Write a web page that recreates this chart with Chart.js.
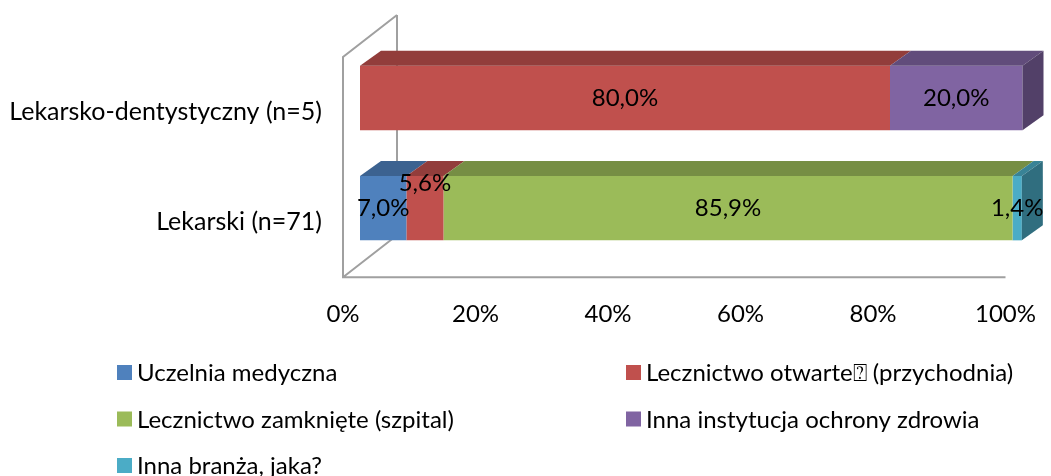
<!DOCTYPE html>
<html>
<head>
<meta charset="utf-8">
<script src="https://cdn.jsdelivr.net/npm/chart.js@4/dist/chart.umd.min.js"></script>
<style>
    html, body { margin: 0; padding: 0; background: #fff; }
    #wrap { width: 1051px; height: 476px; position: relative; }
</style>
</head>
<body>
<div id="wrap"><canvas id="wykres"></canvas></div>
<script>
// Dane
const kategorie = ['Lekarsko-dentystyczny (n=5)', 'Lekarski (n=71)'];
const serie = [
    'Uczelnia medyczna',
    'Lecznictwo otwarte\u2370 (przychodnia)',
    'Lecznictwo zamknięte (szpital)',
    'Inna instytucja ochrony zdrowia',
    'Inna branża, jaka?'
];
const uczelnia = [0, 7.0];
const otwarte = [80.0, 5.6];
const zamkniete = [0, 85.9];
const innaInstytucja = [20.0, 0];
const innaBranza = [0, 1.4];
const tickiOsi = [0, 20, 40, 60, 80, 100];

const kolory = ['#4F81BD', '#C0504D', '#9BBB59', '#8064A2', '#4BACC6'];
const czcionka = 'Lato, "Liberation Sans", sans-serif';
const rozmiar = 24;

// przesuniecia 3D
const GLEB_SCIANA = { x: 54, y: 42 };
const GLEB_SLUPEK = { x: 21, y: 15 };
const PRZES_SLUPKA = { x: 17, y: -14 };

function przyciemnij(hex, f) {
    const n = parseInt(hex.slice(1), 16);
    const r = Math.round(((n >> 16) & 255) * f);
    const g = Math.round(((n >> 8) & 255) * f);
    const b = Math.round((n & 255) * f);
    return `rgb(${r},${g},${b})`;
}

const wartosci = [uczelnia, otwarte, zamkniete, innaInstytucja, innaBranza];

const datasets = serie.map((nazwa, i) => ({
    label: nazwa,
    data: wartosci[i],
    backgroundColor: kolory[i],
    borderWidth: 0,
    categoryPercentage: 1,
    barPercentage: 0.585,
    clip: false
}));

// sciany wykresu 3D (szare linie)
const sciany = {
    id: 'sciany',
    beforeDatasetsDraw(chart) {
        const { ctx, chartArea: a } = chart;
        ctx.save();
        ctx.strokeStyle = '#A0A0A0';
        ctx.lineWidth = 2;
        ctx.beginPath();
        ctx.moveTo(a.left + GLEB_SCIANA.x, a.top - GLEB_SCIANA.y);
        ctx.lineTo(a.left, a.top);
        ctx.lineTo(a.left, a.bottom);
        ctx.lineTo(a.right, a.bottom);
        ctx.moveTo(a.left, a.bottom);
        ctx.lineTo(a.left + GLEB_SCIANA.x, a.bottom - GLEB_SCIANA.y);
        ctx.moveTo(a.left + GLEB_SCIANA.x, a.top - GLEB_SCIANA.y);
        ctx.lineTo(a.left + GLEB_SCIANA.x, a.bottom - GLEB_SCIANA.y);
        ctx.stroke();
        ctx.restore();
        // slupki przesuniete w glab
        ctx.save();
        ctx.translate(PRZES_SLUPKA.x, PRZES_SLUPKA.y);
    },
    afterDatasetsDraw(chart) {
        const ctx = chart.ctx;
        const dx = GLEB_SLUPEK.x, dy = GLEB_SLUPEK.y;
        kategorie.forEach((_, idx) => {
            let ostatni = null;
            chart.data.datasets.forEach((ds, di) => {
                if (!ds.data[idx]) return;
                const el = chart.getDatasetMeta(di).data[idx];
                const p = el.getProps(['x', 'y', 'base', 'height'], true);
                const x0 = Math.min(p.x, p.base), x1 = Math.max(p.x, p.base);
                const yT = p.y - p.height / 2;
                ctx.fillStyle = przyciemnij(kolory[di], 0.76);
                ctx.beginPath();
                ctx.moveTo(x0, yT);
                ctx.lineTo(x1, yT);
                ctx.lineTo(x1 + dx, yT - dy);
                ctx.lineTo(x0 + dx, yT - dy);
                ctx.closePath();
                ctx.fill();
                ostatni = { di, x1, yT, yB: p.y + p.height / 2 };
            });
            if (ostatni) {
                ctx.fillStyle = przyciemnij(kolory[ostatni.di], 0.64);
                ctx.beginPath();
                ctx.moveTo(ostatni.x1, ostatni.yT);
                ctx.lineTo(ostatni.x1 + dx, ostatni.yT - dy);
                ctx.lineTo(ostatni.x1 + dx, ostatni.yB - dy);
                ctx.lineTo(ostatni.x1, ostatni.yB);
                ctx.closePath();
                ctx.fill();
            }
        });
        // etykiety danych
        ctx.font = `${rozmiar}px ${czcionka}`;
        ctx.fillStyle = '#000';
        ctx.textAlign = 'center';
        ctx.textBaseline = 'middle';
        kategorie.forEach((_, idx) => {
            let prawaKrawedz = -Infinity;
            chart.data.datasets.forEach((ds, di) => {
                const v = ds.data[idx];
                if (!v) return;
                const el = chart.getDatasetMeta(di).data[idx];
                const p = el.getProps(['x', 'y', 'base'], true);
                const txt = v.toFixed(1).replace('.', ',') + '%';
                const w = ctx.measureText(txt).width;
                const cx = (p.x + p.base) / 2;
                let cy = p.y;
                if (cx - w / 2 < prawaKrawedz) cy -= 25;
                ctx.fillText(txt, cx, cy);
                prawaKrawedz = cx + w / 2;
            });
        });
        ctx.restore();
    }
};

// legenda w dwoch kolumnach
const legenda = {
    id: 'legenda',
    afterDraw(chart) {
        const ctx = chart.ctx;
        const kolumny = [117, 626];
        const y0 = 372.5, krok = 46.5;
        ctx.save();
        ctx.font = `${rozmiar}px ${czcionka}`;
        ctx.textBaseline = 'middle';
        ctx.textAlign = 'left';
        serie.forEach((nazwa, i) => {
            const x = kolumny[i % 2];
            const y = y0 + Math.floor(i / 2) * krok;
            ctx.fillStyle = kolory[i];
            ctx.fillRect(x, y - 7.5, 15, 15);
            ctx.fillStyle = '#000';
            ctx.fillText(nazwa, x + 20, y + 1);
        });
        ctx.restore();
    }
};

new Chart(document.getElementById('wykres'), {
    type: 'bar',
    data: { labels: kategorie, datasets: datasets },
    options: {
        indexAxis: 'y',
        responsive: true,
        maintainAspectRatio: false,
        animation: false,
        layout: { padding: { top: 57, right: 44.5, bottom: 132, left: 0 } },
        plugins: {
            legend: { display: false },
            tooltip: { enabled: false }
        },
        scales: {
            x: {
                stacked: true,
                min: 0,
                max: 100,
                afterBuildTicks(scale) {
                    scale.ticks = tickiOsi.map(v => ({ value: v }));
                },
                ticks: {
                    callback: v => v + '%',
                    color: '#000',
                    padding: 15,
                    maxRotation: 0,
                    font: { family: czcionka, size: rozmiar }
                },
                grid: { display: false },
                border: { display: false }
            },
            y: {
                stacked: true,
                afterFit(scale) { scale.width = 343; },
                ticks: {
                    color: '#000',
                    padding: 13,
                    font: { family: czcionka, size: 25 }
                },
                grid: { display: false },
                border: { display: false }
            }
        }
    },
    plugins: [sciany, legenda]
});
</script>
</body>
</html>
